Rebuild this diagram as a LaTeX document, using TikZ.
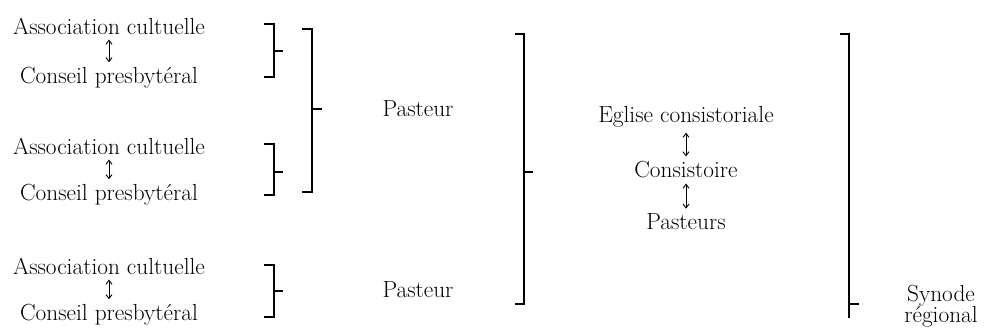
\documentclass[tikz,border=0pt]{standalone}
\usepackage{tikz}
\usetikzlibrary{arrows.meta,positioning}

\begin{document}
\begin{tikzpicture}[
  x=1pt, y=-1pt, font=\fontsize{23.3}{21}\selectfont,
  lbl/.style={inner sep=1pt, align=center},
  arr/.style={{Straight Barb[length=4pt,width=6pt]}-{Straight Barb[length=4pt,width=6pt]}, line width=0.9pt, shorten >=4pt, shorten <=4pt},
  brk/.style={line width=1.3pt}
]
\useasboundingbox (0,0) rectangle (989,331);
% local parishes
\node[lbl] (ac1) at (109,26) {Association cultuelle};
\node[lbl] (cp1) at (109,78) {Conseil presbyt\'eral};
\node[lbl] (ac2) at (109,146) {Association cultuelle};
\node[lbl] (cp2) at (109,195) {Conseil presbyt\'eral};
\node[lbl] (ac3) at (109,266) {Association cultuelle};
\node[lbl] (cp3) at (109,315) {Conseil presbyt\'eral};
\draw[arr] (ac1) -- (cp1);
\draw[arr] (ac2) -- (cp2);
\draw[arr] (ac3) -- (cp3);
% pastors
\node[lbl] (ps1) at (418,109) {Pasteur};
\node[lbl] (ps2) at (418,290) {Pasteur};
% consistorial church
\node[lbl] (egl) at (686,117) {Eglise consistoriale};
\node[lbl] (cons) at (686,170) {Consistoire};
\node[lbl] (pas) at (686,222) {Pasteurs};
\draw[arr] (egl) -- (cons);
\draw[arr] (cons) -- (pas);
% regional synod
\node[lbl] (syn) at (941,306) {Synode\\r\'egional};
% brackets
\draw[brk] (264,24) -- (274,24) -- (274,77) -- (264,77);
\draw[brk] (274,51) -- (283,51);
\draw[brk] (264,144) -- (274,144) -- (274,195) -- (264,195);
\draw[brk] (274,172) -- (283,172);
\draw[brk] (264,265) -- (274,265) -- (274,317) -- (264,317);
\draw[brk] (274,291) -- (283,291);
\draw[brk] (302,29) -- (312,29) -- (312,192) -- (302,192);
\draw[brk] (312,109) -- (322,109);
\draw[brk] (515,34) -- (524,34) -- (524,304) -- (515,304);
\draw[brk] (524,172) -- (533,172);
\draw[brk] (840,34) -- (849,34) -- (849,318);
\draw[brk] (849,304) -- (859,304);
\end{tikzpicture}
\end{document}
